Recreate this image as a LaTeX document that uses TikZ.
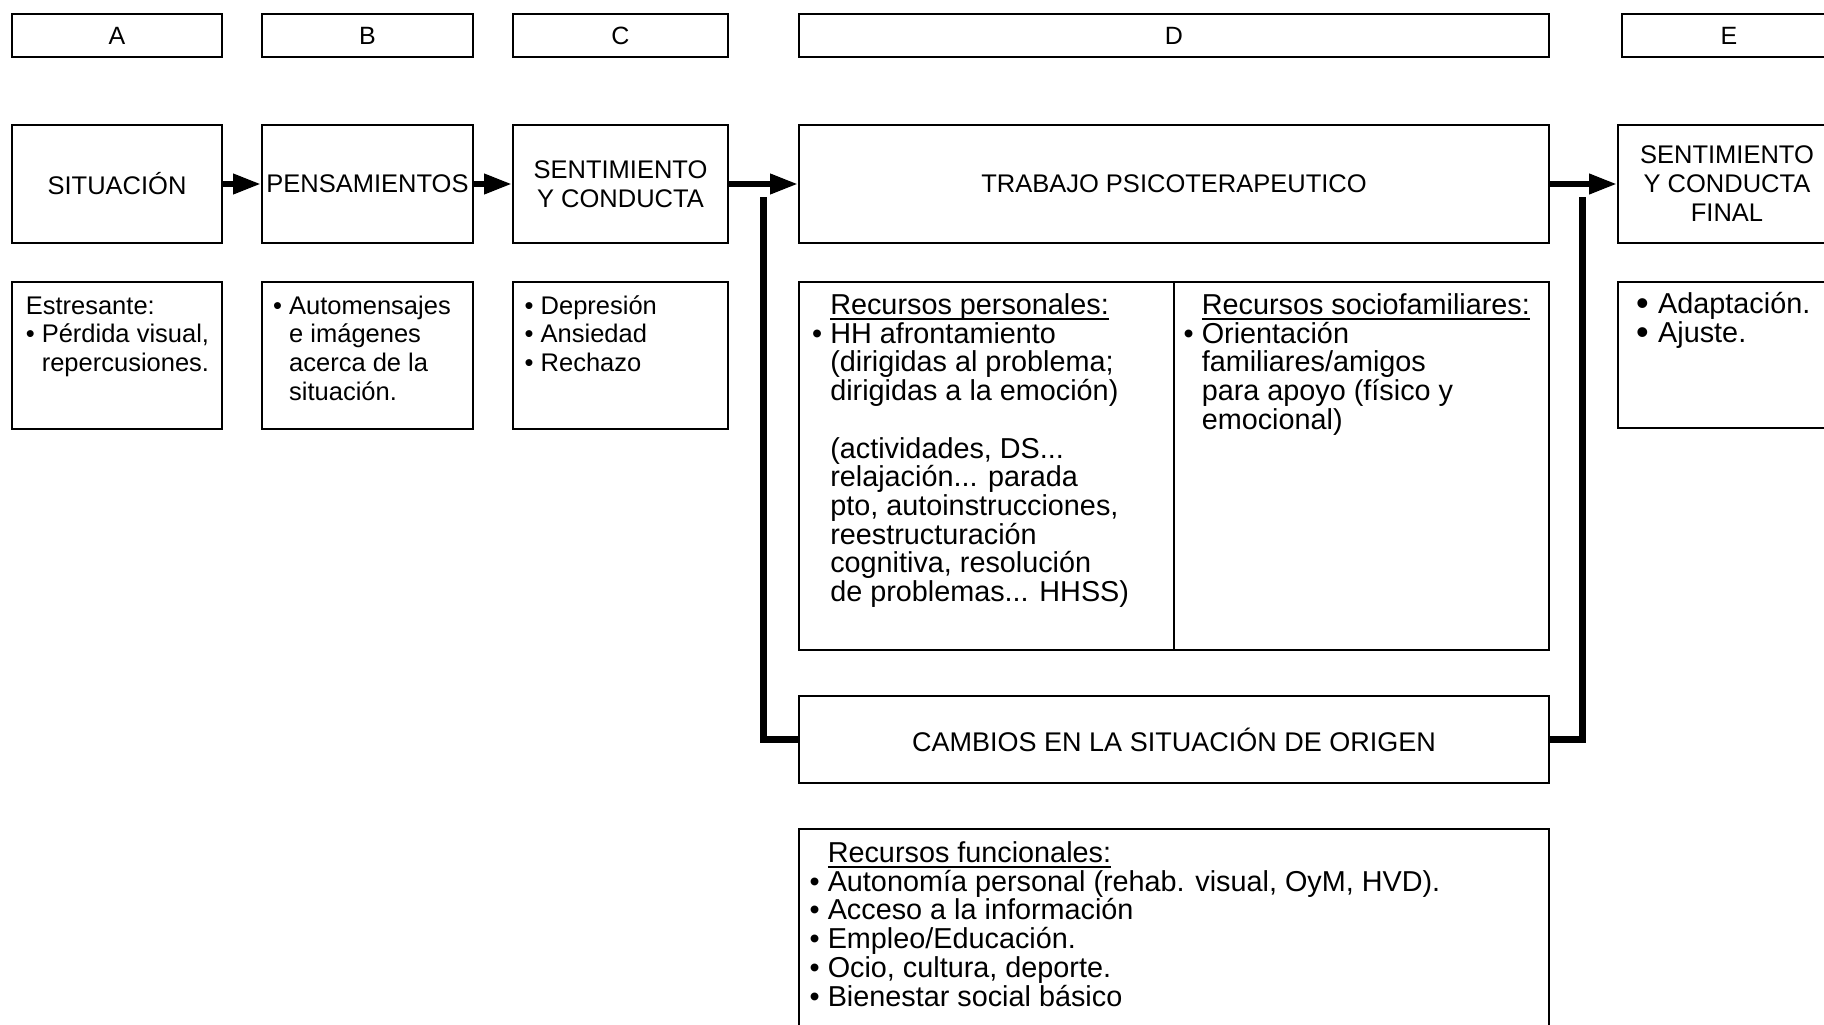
\documentclass[tikz,border=0pt]{standalone}
\usepackage{fontspec}
\setmainfont{Liberation Sans}
\usetikzlibrary{arrows.meta}

% font size helper and list helpers
\newcommand\setfs[2]{\fontsize{#1}{#2}\selectfont}
\newsavebox\rulbox
\newcommand\rul[1]{\sbox\rulbox{#1}\rlap{\rule[-5pt]{\wd\rulbox}{1.3pt}}\usebox\rulbox}
\newcommand\bl{\textbullet\ }
\newcommand\ind{\phantom{\textbullet\ }}
\newcommand\bigbl{\makebox[22pt][l]{\raisebox{-2pt}[0pt][0pt]{\setfs{36}{36}\textbullet}}}

\begin{document}
\begin{tikzpicture}[x=1pt,y=-1pt,
  box/.style={draw, line width=1.8pt, inner sep=0pt, align=center},
  hdr/.style={box, minimum height=43pt, font=\setfs{25}{29}},
  stage/.style={box, minimum height=118pt, font=\setfs{25.5}{29}},
  % text blocks are placed by the baseline of their last line
  txtS/.style={anchor=base west, inner sep=0pt, align=left, font=\setfs{25.5}{28.8}},
  txtL/.style={anchor=base west, inner sep=0pt, align=left, font=\setfs{28.8}{28.7}},
  flow/.style={line width=6.5pt, -{Triangle[length=28pt,width=19pt]}},
  back/.style={line width=7pt}
]
\fill[white] (0,0) rectangle (1824,1025);
\useasboundingbox (0,0) rectangle (1824,1025);

% column headers
\node[hdr, minimum width=210pt] (hA) at (117,35.5) {A};
\node[hdr, minimum width=211pt] (hB) at (367.5,35.5) {B};
\node[hdr, minimum width=215pt] (hC) at (620.5,35.5) {C};
\node[hdr, minimum width=750pt] (hD) at (1174,35.5) {D};
\node[hdr, minimum width=214pt] (hE) at (1729,35.5) {E};

% main sequence
\node[stage, minimum width=210pt] (sA) at (117,184) {SITUACIÓN};
\node[stage, minimum width=211pt] (sB) at (367.5,184) {PENSAMIENTOS};
\node[stage, minimum width=215pt] (sC) at (620.5,184) {SENTIMIENTO\\Y CONDUCTA};
\node[stage, minimum width=750pt] (sD) at (1174,184) {TRABAJO PSICOTERAPEUTICO};
\node[stage, minimum width=218pt] (sE) at (1727,184) {SENTIMIENTO\\Y CONDUCTA\\FINAL};

% detail panels
\node[box, minimum width=210pt, minimum height=147pt] (rA) at (117,355.5) {};
\node[box, minimum width=211pt, minimum height=147pt] (rB) at (367.5,355.5) {};
\node[box, minimum width=215pt, minimum height=147pt] (rC) at (620.5,355.5) {};
\node[box, minimum width=750pt, minimum height=368pt] (rD) at (1174,466) {};
\node[box, minimum width=218pt, minimum height=146pt] (rE) at (1727,355) {};
\draw[line width=1.8pt] (rD.north) -- (rD.south);

\node[box, minimum width=750pt, minimum height=87pt, font=\setfs{27}{30}] (cam) at (1174,739.5) {CAMBIOS EN LA SITUACIÓN DE ORIGEN};
\node[box, minimum width=750pt, minimum height=216pt] (fun) at (1174,937) {};

% panel texts
\node[txtS] (tA) at (25.6,371.6) {Estresante:\\\bl Pérdida visual,\\\ind repercusiones.};
\node[txtS] (tB) at (273,400.4) {\bl Automensajes\\\ind e imágenes\\\ind acerca de la\\\ind situación.};
\node[txtS] (tC) at (524.5,371.6) {\bl Depresión\\\bl Ansiedad\\\bl Rechazo};

\node[txtL] (tDl) at (812,601.5) {\ind\rul{Recursos personales:}\\
  \bl HH afrontamiento\\
  \ind(dirigidas al problema;\\
  \ind dirigidas a la emoción)\\[28.7pt]
  \ind(actividades, DS...\\
  \ind relajación... parada\\
  \ind pto, autoinstrucciones,\\
  \ind reestructuración\\
  \ind cognitiva, resolución\\
  \ind de problemas... HHSS)};
\node[txtL] (tDr) at (1183.5,429.3) {\ind\rul{Recursos sociofamiliares:}\\
  \bl Orientación\\
  \ind familiares/amigos\\
  \ind para apoyo (físico y\\
  \ind emocional)};
\node[txtL] (tE) at (1636,342.2) {\bigbl Adaptación.\\\bigbl Ajuste.};

\node[txtL] (tF) at (809.5,1006) {\ind\rul{Recursos funcionales:}\\
  \bl Autonomía personal (rehab. visual, OyM, HVD).\\
  \bl Acceso a la información\\
  \bl Empleo/Educación.\\
  \bl Ocio, cultura, deporte.\\
  \bl Bienestar social básico};

% flow arrows
\draw[flow] (sA) -- (sB);
\draw[flow] (sB) -- (sC);
\draw[flow] (sC) -- (sD);
\draw[flow] (sD) -- (sE);

% feedback from the changed situation
\coordinate (fbL) at (763,197);
\coordinate (fbR) at (1582,197);
\draw[back] (cam.west) -| (fbL);
\draw[back] (cam.east) -| (fbR);
\end{tikzpicture}
\end{document}
